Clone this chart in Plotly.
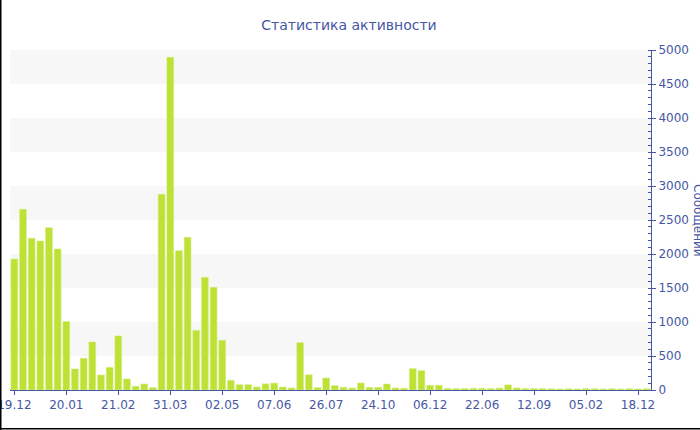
import plotly.graph_objects as go

# Bar values (messages per period)
values = [1926, 2657, 2230, 2190, 2387, 2074, 1005, 309, 466, 706,
          221, 333, 794, 162, 54, 88, 34, 2877, 4892, 2049,
          2245, 877, 1657, 1510, 730, 142, 78, 78, 44, 90,
          100, 44, 29, 696, 223, 34, 176, 64, 39, 29,
          103, 39, 39, 88, 29, 24, 314, 284, 69, 69,
          24, 20, 20, 25, 25, 20, 28, 75, 30, 20,
          20, 20, 18, 15, 18, 15, 20, 18, 15, 18,
          15, 18, 15, 18]
positions = list(range(len(values)))

tick_positions = [0, 6, 12, 18, 24, 30, 36, 42, 48, 54, 60, 66, 72]
tick_labels = ["19.12", "20.01", "21.02", "31.03", "02.05", "07.06", "26.07",
               "24.10", "06.12", "22.06", "12.09", "05.02", "18.12"]

band_ranges = [(500, 1000), (1500, 2000), (2500, 3000), (3500, 4000), (4500, 5000)]

title_text = "Статистика активности"
y_title = "Сообщений"

BLUE = "#4657a4"
FONT = "DejaVu Sans"

fig = go.Figure()
fig.add_trace(go.Bar(
    x=positions, y=values,
    marker=dict(color="#bde134", line=dict(color="#d3ec7a", width=0.6)),
    hoverinfo="y",
))

shapes = []
for lo, hi in band_ranges:
    shapes.append(dict(type="rect", xref="paper", yref="y", x0=0, x1=1, y0=lo, y1=hi,
                       fillcolor="#f7f7f7", line=dict(width=0), layer="below"))
# black frame on left and bottom edges
shapes.append(dict(type="line", xref="paper", yref="paper",
                   x0=(0.75 - 10) / 641, x1=(0.75 - 10) / 641, y0=-0.12, y1=1.2,
                   line=dict(color="black", width=1.5)))
shapes.append(dict(type="line", xref="paper", yref="paper",
                   x0=-0.02, x1=1.1, y0=-(38.8 / 340), y1=-(38.8 / 340),
                   line=dict(color="black", width=1.5)))

fig.update_layout(
    width=700, height=430,
    margin=dict(l=10, r=49, t=50, b=40, autoexpand=False),
    paper_bgcolor="white", plot_bgcolor="white",
    bargap=0.22,
    showlegend=False,
    font=dict(family=FONT, size=12, color=BLUE),
    title=dict(text=title_text, x=349 / 700, xanchor="center", y=1 - 25 / 430, yanchor="middle",
               font=dict(family=FONT, size=14, color=BLUE), automargin=False),
    shapes=shapes,
    annotations=[dict(text=y_title, textangle=90, xref="paper", yref="paper",
                      x=(698 - 10) / 641, y=0.5, xanchor="center", yanchor="middle",
                      showarrow=False, font=dict(family=FONT, size=12, color=BLUE))],
    xaxis=dict(range=[-0.5, len(values) - 0.5], tickmode="array",
               tickvals=tick_positions, ticktext=tick_labels,
               showgrid=False, zeroline=False, automargin=False,
               ticklabeloverflow="allow",
               showline=True, linecolor=BLUE, linewidth=1,
               ticks="outside", ticklen=4, tickcolor=BLUE,
               tickfont=dict(family=FONT, size=12, color=BLUE)),
    yaxis=dict(side="right", range=[0, 5000], dtick=500, tick0=0,
               showgrid=False, zeroline=False, automargin=False,
               ticklabeloverflow="allow",
               showline=True, linecolor=BLUE, linewidth=1,
               ticks="outside", ticklen=4, tickcolor=BLUE,
               minor=dict(dtick=100, ticks="inside", ticklen=3, tickcolor=BLUE, showgrid=False),
               tickfont=dict(family=FONT, size=12, color=BLUE)),
)

fig.write_html("out.html", config={"displayModeBar": False},
               post_script="document.body.style.margin='0px';")
